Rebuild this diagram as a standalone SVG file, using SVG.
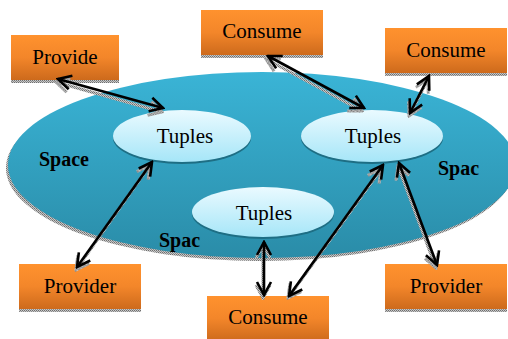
<svg xmlns="http://www.w3.org/2000/svg" width="508" height="339" viewBox="0 0 508 339">
<defs>
<linearGradient id="gBox" x1="0" y1="0" x2="0" y2="1"><stop offset="0" stop-color="#FF922E"/><stop offset="0.5" stop-color="#F3862A"/><stop offset="1" stop-color="#CD6A1C"/></linearGradient>
<linearGradient id="gSpace" x1="0" y1="0" x2="0" y2="1"><stop offset="0" stop-color="#3AB4D6"/><stop offset="1" stop-color="#2A8CA8"/></linearGradient>
<linearGradient id="gTup" x1="0" y1="0" x2="0" y2="1"><stop offset="0" stop-color="#EAFAFF"/><stop offset="1" stop-color="#A6E6F8"/></linearGradient>
<pattern id="hatch" width="2" height="2" patternUnits="userSpaceOnUse"><rect width="2" height="2" fill="#c8c8c8"/><rect width="1" height="1" fill="#6e6e6e"/><rect x="1" y="1" width="1" height="1" fill="#8a8a8a"/></pattern>
<marker id="ah" viewBox="-15 -9 17 18" refX="0" refY="0" markerWidth="17" markerHeight="18" markerUnits="userSpaceOnUse" orient="auto-start-reverse"><path d="M-13,-7 L0,0 L-13,7" fill="none" stroke="#000" stroke-width="2.6" stroke-linejoin="miter"/></marker>
<marker id="ahs" viewBox="-15 -9 17 18" refX="0" refY="0" markerWidth="17" markerHeight="18" markerUnits="userSpaceOnUse" orient="auto-start-reverse"><path d="M-13,-7 L0,0 L-13,7" fill="none" stroke="url(#hatch)" stroke-width="3"/></marker>
</defs>
<style>
.box{fill:url(#gBox)}
.bsh{fill:url(#hatch)}
.t{font-family:"Liberation Serif","Times New Roman",serif;font-size:21px;fill:#000;text-anchor:middle}
.lb{font-family:"Liberation Serif","Times New Roman",serif;font-size:20px;font-weight:bold;fill:#000}
.tup{fill:url(#gTup)}
.tsh{fill:#1E6E84}
.c{stroke:#000;stroke-width:2.6;fill:none;marker-start:url(#ah);marker-end:url(#ah)}
.cs{stroke:url(#hatch);stroke-width:3;fill:none;marker-start:url(#ahs);marker-end:url(#ahs)}
</style>
<g id="space">
<ellipse cx="260" cy="168" rx="254" ry="93" fill="url(#hatch)"/>
<ellipse cx="262" cy="165" rx="254" ry="93" fill="url(#gSpace)"/>
<text class="lb" x="39" y="166">Space</text>
<text class="lb" x="438" y="175">Spac</text>
<text class="lb" x="159" y="247">Spac</text>
</g>
<g id="tuples1">
<ellipse cx="182" cy="138" rx="69" ry="26" class="tsh"/>
<ellipse cx="182" cy="136" rx="69" ry="26" class="tup"/>
<text class="t" x="185" y="143">Tuples</text>
</g>
<g id="tuples2">
<ellipse cx="372" cy="138" rx="71" ry="26" class="tsh"/>
<ellipse cx="372" cy="136" rx="71" ry="26" class="tup"/>
<text class="t" x="373" y="143">Tuples</text>
</g>
<g id="tuples3">
<ellipse cx="263" cy="214" rx="71" ry="25" class="tsh"/>
<ellipse cx="263" cy="212" rx="71" ry="25" class="tup"/>
<text class="t" x="264" y="220">Tuples</text>
</g>
<g id="provide">
<rect x="11" y="79" width="108" height="4" class="bsh"/>
<rect x="11" y="35" width="108" height="45" class="box"/>
<text class="t" x="65" y="64">Provide</text>
</g>
<g id="consume-top">
<rect x="201" y="54" width="122" height="4" class="bsh"/>
<rect x="201" y="10" width="122" height="45" class="box"/>
<text class="t" x="262" y="38">Consume</text>
</g>
<g id="consume-right">
<rect x="385" y="72" width="122" height="4" class="bsh"/>
<rect x="385" y="28" width="122" height="45" class="box"/>
<text class="t" x="446" y="57">Consume</text>
</g>
<g id="provider-left">
<rect x="19" y="308" width="122" height="4" class="bsh"/>
<rect x="19" y="264" width="122" height="45" class="box"/>
<text class="t" x="80" y="293">Provider</text>
</g>
<g id="provider-right">
<rect x="385" y="308" width="122" height="4" class="bsh"/>
<rect x="385" y="264" width="122" height="45" class="box"/>
<text class="t" x="446" y="293">Provider</text>
</g>
<g id="consume-bottom">
<rect x="207" y="296" width="122" height="45" class="box"/>
<text class="t" x="268" y="324">Consume</text>
</g>
<g id="connectors">
<line class="cs" x1="56" y1="82" x2="162" y2="112"/>
<line class="cs" x1="266" y1="59" x2="362" y2="111"/>
<line class="cs" x1="428" y1="79" x2="409" y2="116"/>
<line class="cs" x1="150" y1="165" x2="76" y2="270"/>
<line class="cs" x1="263" y1="245" x2="263" y2="298"/>
<line class="cs" x1="381" y1="169" x2="288" y2="298"/>
<line class="cs" x1="398" y1="166" x2="436" y2="268"/>
<line class="c" x1="58" y1="79" x2="163" y2="108"/>
<line class="c" x1="268" y1="56" x2="364" y2="108"/>
<line class="c" x1="429" y1="76" x2="410" y2="113"/>
<line class="c" x1="152" y1="162" x2="77" y2="267"/>
<line class="c" x1="264" y1="242" x2="264" y2="295"/>
<line class="c" x1="383" y1="165" x2="289" y2="296"/>
<line class="c" x1="399" y1="163" x2="437" y2="265"/>
</g>
</svg>
